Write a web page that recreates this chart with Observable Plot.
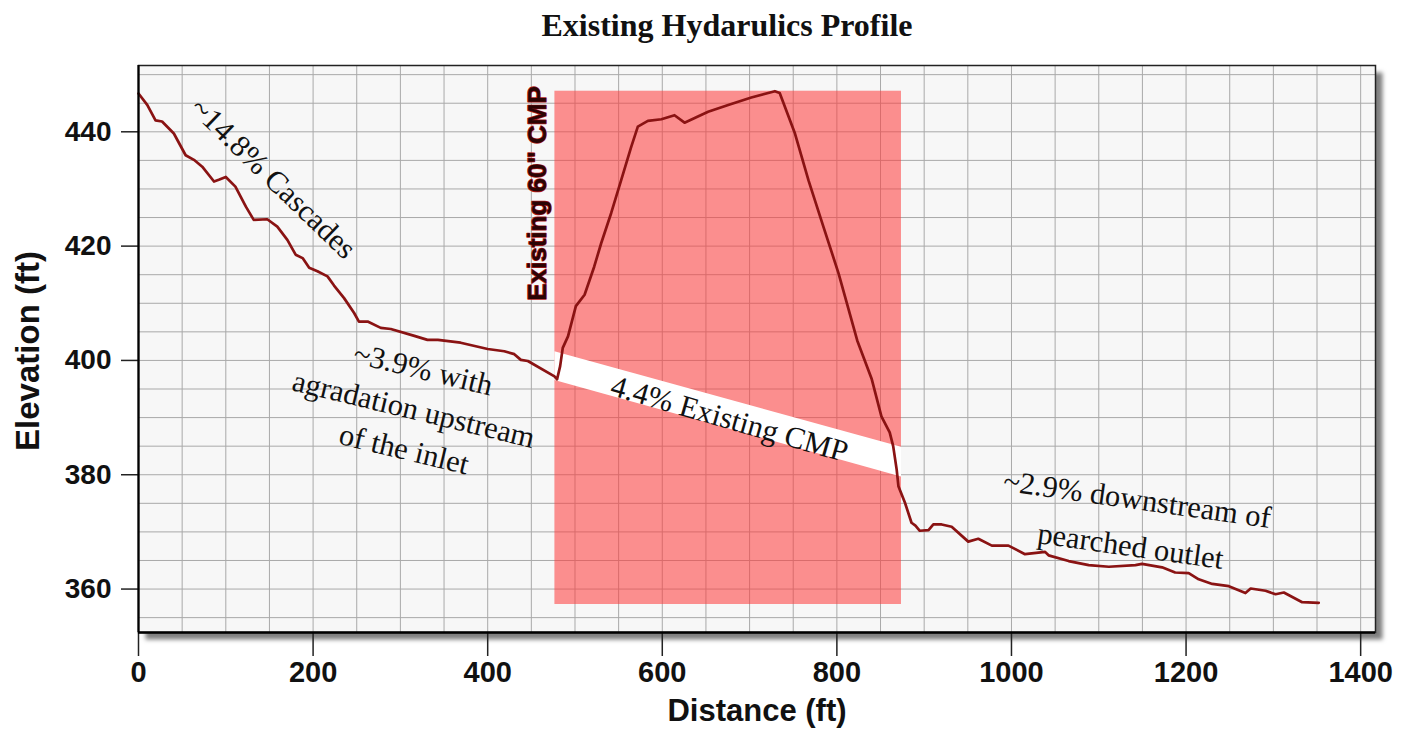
<!DOCTYPE html>
<html>
<head>
<meta charset="utf-8">
<script src="https://cdn.jsdelivr.net/npm/d3@7"></script>
<script src="https://cdn.jsdelivr.net/npm/@observablehq/plot@0.6"></script>
<style>
  html, body { margin: 0; padding: 0; background: #ffffff; }
  #title { height: 50px; line-height: 50px; text-align: center; font-family: "Liberation Serif", "Times New Roman", serif; font-weight: bold; font-size: 32px; color: #111; padding-left: 46px; }
</style>
</head>
<body>
<div id="title">Existing Hydarulics Profile</div>
<div id="chart"></div>
<script>
// ---- data ----
const distance = [0, 10, 19.5, 27, 40.5, 54, 63.5, 73, 86.5, 92, 100, 111, 123, 132, 147.5, 159, 170.5, 180, 188, 195.5,
  205, 216.5, 224, 235.5, 247, 252.5, 262.5, 277.5, 289, 316, 331, 343, 369, 400, 419, 430.5, 438, 446, 476.5, 479.5,
  483, 486, 492, 501, 511, 522, 530, 541.5, 553, 564.5, 572, 583.5, 599, 614, 625.5, 652.5, 675.5, 702, 729, 734.5,
  752, 767.5, 785, 802, 823.3, 840, 851, 860.5, 864.5, 868.5, 870.5, 878, 885.5, 890, 895, 905, 910.5, 920, 931.5, 950.5,
  962, 977.5, 996.5, 1015.5, 1038.5, 1042.5, 1065.5, 1088.5, 1111.5, 1142, 1149.5, 1172.5, 1187.5, 1203, 1214.5, 1230,
  1249, 1268, 1274, 1291, 1302.5, 1312, 1333, 1352];
const elevation = [446.7, 444.7, 442.0, 441.8, 439.7, 435.9, 435.1, 433.9, 431.3, 431.6, 432.1, 430.4, 426.9, 424.6, 424.7, 423.4, 421.1, 418.5, 417.9, 416.2,
  415.6, 414.7, 413.1, 410.9, 408.3, 406.8, 406.8, 405.7, 405.5, 404.3, 403.6, 403.6, 403.1, 402.0, 401.6, 401.1, 400.1, 399.9, 397.2, 396.7,
  399.0, 402.2, 404.2, 409.5, 411.5, 416.4, 420.5, 425.8, 431.6, 437.4, 440.9, 441.9, 442.2, 442.9, 441.6, 443.5, 444.7, 446.0, 447.1, 446.8,
  439.7, 431.5, 423.2, 415.2, 403.5, 396.7, 390.2, 387.4, 385.0, 380.9, 378.0, 375.1, 371.6, 371.1, 370.2, 370.3, 371.3, 371.3, 370.9, 368.3,
  368.8, 367.6, 367.6, 366.1, 366.5, 365.9, 364.9, 364.2, 363.9, 364.2, 364.4, 363.8, 362.9, 362.8, 361.7, 360.9,
  360.5, 359.3, 360.1, 359.7, 359.1, 359.4, 357.7, 357.6];

// culvert (CMP) region
const cmpX = [477, 874];
const cmpY = [357.3, 447.1];
// white band of the existing CMP
const bandX = [477, 874];
const bandTop = [401.5, 384.8];
const bandBottom = [396.5, 379.6];

// axes
const xTicks = [0, 200, 400, 600, 800, 1000, 1200, 1400];
const yTicks = [360, 380, 400, 420, 440];
const xGrid = [50,100,150,200,250,300,350,400,450,500,550,600,650,700,750,800,850,900,950,1000,1050,1100,1150,1200,1250,1300,1350,1400];
const yGrid = [355,360,365,370,375,380,385,390,395,400,405,410,415,420,425,430,435,440,445,450];
const xDomain = [0, 1417];
const yDomain = [352.4, 451.6];

// annotations
const noteText = ["~14.8% Cascades", "~3.9% with\nagradation upstream\nof the inlet", "4.4% Existing CMP", "~2.9% downstream of\npearched outlet"];
const noteX = [157, 316, 678, 1141];
const noteY = [432.3, 392.0, 390.3, 372.5];
const noteAngle = [44, 13.5, 16, 8];
const noteLead = [1.35, 1.35, 1.35, 1.55];
const cmpLabel = ["Existing 60\" CMP"];
const cmpLabelX = [457];
const cmpLabelY = [429.2];

const profile = distance.map((d, i) => ({distance: d, elevation: elevation[i]}));
const band = bandX.map((d, i) => ({x: d, top: bandTop[i], bottom: bandBottom[i]}));
const notes = noteText.map((t, i) => ({text: t, x: noteX[i], y: noteY[i], r: noteAngle[i], lead: noteLead[i]}));
const cmpBox = [{x1: cmpX[0], x2: cmpX[1], y1: cmpY[0], y2: cmpY[1]}];
const cmpLab = cmpLabel.map((t, i) => ({text: t, x: cmpLabelX[i], y: cmpLabelY[i]}));

const serif = "Liberation Serif, Times New Roman, serif";
const sans = "Liberation Sans, Arial, sans-serif";

const noteStyle = {x: "x", y: "y", text: "text", rotate: "r", fontFamily: serif, fontSize: 30.5, fill: "#111", textAnchor: "middle", lineAnchor: "middle"};

const chart = Plot.plot({
  width: 1408,
  height: 679,
  marginLeft: 138,
  marginRight: 33,
  marginTop: 15,
  marginBottom: 97,
  x: {domain: xDomain},
  y: {domain: yDomain},
  style: {background: "transparent", overflow: "visible"},
  marks: [
    Plot.frame({fill: "#f7f7f7", stroke: "none"}),
    Plot.ruleX(xGrid, {stroke: "#a9a9a9", strokeWidth: 1}),
    Plot.ruleY(yGrid, {stroke: "#a9a9a9", strokeWidth: 1}),
    Plot.rect(cmpBox, {x1: "x1", x2: "x2", y1: "y1", y2: "y2", fill: "#ff3838", fillOpacity: 0.55}),
    Plot.areaY(band, {x: "x", y1: "bottom", y2: "top", fill: "#ffffff", curve: "linear"}),
    Plot.line(profile, {x: "distance", y: "elevation", stroke: "#8a1313", strokeWidth: 2.7, curve: "linear"}),
    Plot.text(notes.filter(d => d.lead < 1.5), {...noteStyle, lineHeight: 1.35}),
    Plot.text(notes.filter(d => d.lead >= 1.5), {...noteStyle, lineHeight: 1.55}),
    Plot.text(cmpLab, {x: "x", y: "y", text: "text", rotate: -90, fontFamily: sans, fontWeight: "bold", fontSize: 26, fill: "#2a0404", stroke: "#b01a1a", strokeWidth: 1.4, paintOrder: "stroke", textAnchor: "middle", lineAnchor: "middle"}),
    Plot.axisY({ticks: yTicks, tickSize: 17, tickPadding: 10, fontSize: 28, fontWeight: "bold", fontFamily: sans, fill: "#111", stroke: "#222", strokeWidth: 1.5, label: null, tickFormat: d => String(d)}),
    Plot.axisX({ticks: xTicks, tickSize: 24, tickPadding: 5, fontSize: 29, fontWeight: "bold", fontFamily: sans, fill: "#111", stroke: "#222", strokeWidth: 1.5, label: null, tickFormat: d => String(d)}),
    Plot.frame({stroke: "#222", strokeWidth: 1.5, fill: "none"}),
    Plot.ruleX([xDomain[0]], {stroke: "#000", strokeWidth: 2.2}),
    Plot.ruleY([yDomain[0]], {stroke: "#000", strokeWidth: 2.5}),
    Plot.text(["Elevation (ft)"], {frameAnchor: "left", dx: -110, dy: 2, rotate: -90, text: d => d, fontFamily: sans, fontWeight: "bold", fontSize: 33, fill: "#111", textAnchor: "middle", lineAnchor: "middle"}),
    Plot.text(["Distance (ft)"], {frameAnchor: "bottom", dy: 79, text: d => d, fontFamily: sans, fontWeight: "bold", fontSize: 31, fill: "#111", textAnchor: "middle", lineAnchor: "middle"})
  ]
});

// drop shadow on the plotting area
const frames = chart.querySelectorAll('[aria-label="frame"]');
if (frames.length) frames[0].style.filter = "drop-shadow(7px 7px 2px rgba(0,0,0,0.5))";

document.getElementById("chart").appendChild(chart);
</script>
</body>
</html>
